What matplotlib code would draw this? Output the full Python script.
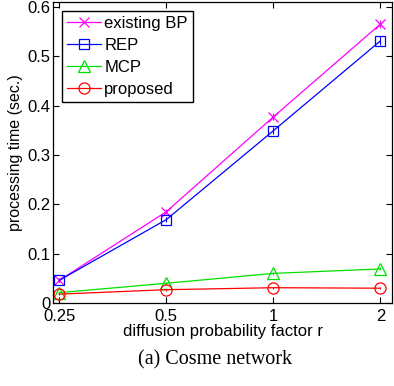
import matplotlib.pyplot as plt
from matplotlib.lines import Line2D

# diffusion probability factor r
r_values = [0.25, 0.5, 1, 2]
tick_labels = ['0.25', '0.5', '1', '2']

# processing time (sec.) per method
existing_bp = [0.046, 0.185, 0.377, 0.565]
rep = [0.046, 0.169, 0.349, 0.531]
mcp = [0.021, 0.040, 0.060, 0.069]
proposed = [0.018, 0.027, 0.031, 0.030]

# small spread shown as error bars
bp_err = [0.004, 0.005, 0.007, 0.008]
rep_err = [0.004, 0.005, 0.007, 0.009]
mcp_err = [0.002, 0.003, 0.003, 0.003]
prop_err = [0.002, 0.002, 0.002, 0.002]

plt.rcParams['font.family'] = ['Liberation Sans', 'DejaVu Sans']

fig = plt.figure(figsize=(3.94, 3.86), dpi=100)
ax = fig.add_axes([0.1345, 0.215, 0.861, 0.78])

series = [
    ('existing BP', existing_bp, bp_err, '#ff00ff', 'x', 7),
    ('REP', rep, rep_err, '#0000ff', 's', 7),
    ('MCP', mcp, mcp_err, '#00e000', '^', 8),
    ('proposed', proposed, prop_err, '#ff0000', 'o', 8),
]
handles = []
for name, vals, err, color, marker, ms in series:
    ax.errorbar(r_values, vals, yerr=err, color=color, marker=marker,
                markersize=ms, markerfacecolor='none', markeredgecolor=color,
                markeredgewidth=0.9, linewidth=0.9, elinewidth=0.8, capsize=0)
    handles.append(Line2D([], [], color=color, marker=marker, markersize=ms,
                          markerfacecolor='none', markeredgewidth=0.9,
                          linewidth=0.9, label=name))

ax.set_xscale('log', base=2)
ax.set_xticks(r_values)
ax.set_xticklabels(tick_labels)
ax.minorticks_off()
ax.set_xlim(0.24, 2.16)
ax.set_ylim(0, 0.61)
ax.set_yticks([0, 0.1, 0.2, 0.3, 0.4, 0.5, 0.6])
ax.set_yticklabels(['0', '0.1', '0.2', '0.3', '0.4', '0.5', '0.6'])
ax.tick_params(direction='in', top=True, right=True, labelsize=12, length=4, width=0.8, pad=2)
ax.tick_params(axis='x', pad=4)
for s in ax.spines.values():
    s.set_linewidth(0.9)

ax.set_xlabel('diffusion probability factor r', fontsize=12, labelpad=0)
ax.set_ylabel('processing time (sec.)', fontsize=11.5, labelpad=3)

leg = ax.legend(handles=handles, loc='upper left', fontsize=12, frameon=True,
                fancybox=False, edgecolor='black', framealpha=1,
                handlelength=2.0, handletextpad=0.2, borderpad=0.3,
                labelspacing=0.42, bbox_to_anchor=(0.028, 0.97),
                borderaxespad=0.0)
leg.get_frame().set_linewidth(1.0)

fig.text(0.545, 0.067, '(a) Cosme network', ha='center', va='center',
         fontsize=14.5, family=['Liberation Serif', 'DejaVu Serif'])

fig.savefig('out.png', dpi=100)
